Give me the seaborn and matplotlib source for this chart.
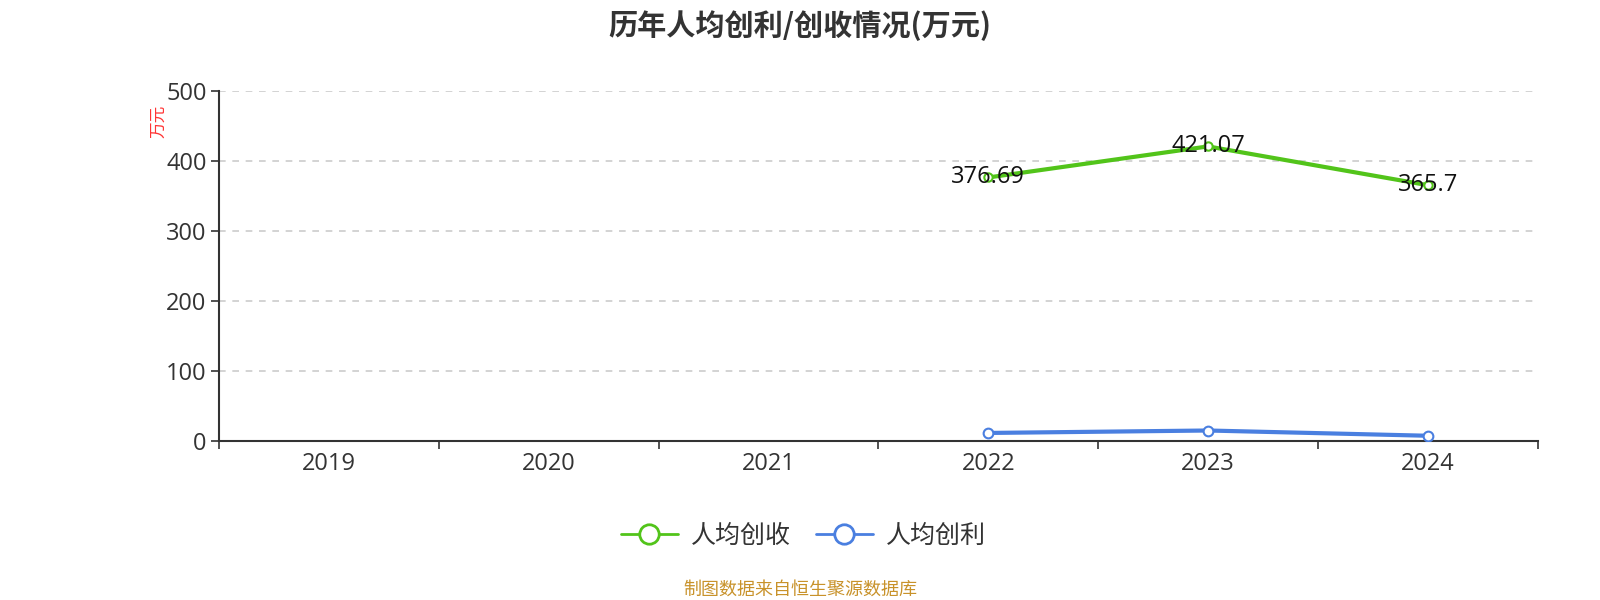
import numpy as np
import pandas as pd
import matplotlib
matplotlib.use("Agg")
import matplotlib.pyplot as plt
import seaborn as sns
from matplotlib.lines import Line2D

# === data ===
years = ["2019", "2020", "2021", "2022", "2023", "2024"]
revenue_years = ["2022", "2023", "2024"]
revenue_per_capita = [376.69, 421.07, 365.7]
profit_years = ["2022", "2023", "2024"]
profit_per_capita = [11.5, 15.0, 7.5]
series_names = ["人均创收", "人均创利"]
y_ticks = [0, 100, 200, 300, 400, 500]

green = "#52c41a"
blue = "#4a7fe0"

sns.set_theme(style="white")
plt.rcParams["font.family"] = ["Open Sans", "Noto Sans CJK SC", "DejaVu Sans"]
cjk = ["Noto Sans CJK SC", "DejaVu Sans"]

pos = {y: i for i, y in enumerate(years)}
df = pd.concat([
    pd.DataFrame({"x": [pos[y] for y in revenue_years], "v": revenue_per_capita, "s": series_names[0]}),
    pd.DataFrame({"x": [pos[y] for y in profit_years], "v": profit_per_capita, "s": series_names[1]}),
])

fig = plt.figure(figsize=(16, 6), dpi=100)
ax = fig.add_axes([0.137, 0.265, 0.824, 0.583])

sns.lineplot(data=df[df.s == series_names[0]], x="x", y="v", ax=ax, color=green, lw=3,
             marker="o", markersize=6, markerfacecolor="white", markeredgecolor=green,
             markeredgewidth=1.5, legend=False, zorder=3)
sns.lineplot(data=df[df.s == series_names[1]], x="x", y="v", ax=ax, color=blue, lw=3,
             marker="o", markersize=7, markerfacecolor="white", markeredgecolor=blue,
             markeredgewidth=1.5, legend=False, zorder=3)

for y, v in zip(revenue_years, revenue_per_capita):
    ax.text(pos[y], v, f"{v:g}", ha="center", va="center", fontsize=17, color="#111111", zorder=4)

ax.set_xlim(-0.5, len(years) - 0.5)
ax.set_ylim(0, 500)
ax.set_yticks(y_ticks)
ax.set_yticklabels([str(t) for t in y_ticks], fontsize=17, color="#333333")
ax.set_xticks(np.arange(-0.5, len(years)), minor=False)
ax.set_xticklabels([])
ax.set_xticks(np.arange(len(years)), minor=True)
ax.set_xticklabels(years, minor=True, fontsize=17, color="#333333")
ax.tick_params(axis="x", which="major", length=6, width=1.2, color="#333333", direction="out", bottom=True)
ax.tick_params(axis="x", which="minor", length=0, pad=8)
ax.tick_params(axis="y", length=6, width=1.2, color="#333333", direction="out", left=True, pad=3)
ax.set_xlabel("")
ax.set_ylabel("")

for t in y_ticks[1:]:
    ax.axhline(t, color="#cccccc", lw=1.2, ls=(0, (4, 4)), zorder=1)

for side in ["top", "right"]:
    ax.spines[side].set_visible(False)
for side in ["left", "bottom"]:
    ax.spines[side].set_color("#333333")
    ax.spines[side].set_linewidth(1.5)

fig.text(0.099, 0.797, "万元", rotation=90, ha="center", va="center", fontsize=12,
         color="#ff3333", family=cjk)

fig.text(0.5, 0.958, "历年人均创利/创收情况(万元)", ha="center", va="center",
         fontsize=21, fontweight="bold", color="#333333", family=cjk)

handles = [
    Line2D([0], [0], color=green, lw=2, marker="o", markersize=14, markerfacecolor="white",
           markeredgecolor=green, markeredgewidth=2),
    Line2D([0], [0], color=blue, lw=2, marker="o", markersize=14, markerfacecolor="white",
           markeredgecolor=blue, markeredgewidth=2),
]
fig.legend(handles, series_names, loc="center", bbox_to_anchor=(0.502, 0.107), ncol=2,
           frameon=False, handlelength=2.3, columnspacing=1.0, handletextpad=0.5,
           labelcolor="#333333", prop={"family": cjk, "size": 18})

fig.text(0.5, 0.018, "制图数据来自恒生聚源数据库", ha="center", va="center", fontsize=13,
         color="#c8922a", family=cjk)

fig.savefig("out.png", dpi=100, facecolor="white")
